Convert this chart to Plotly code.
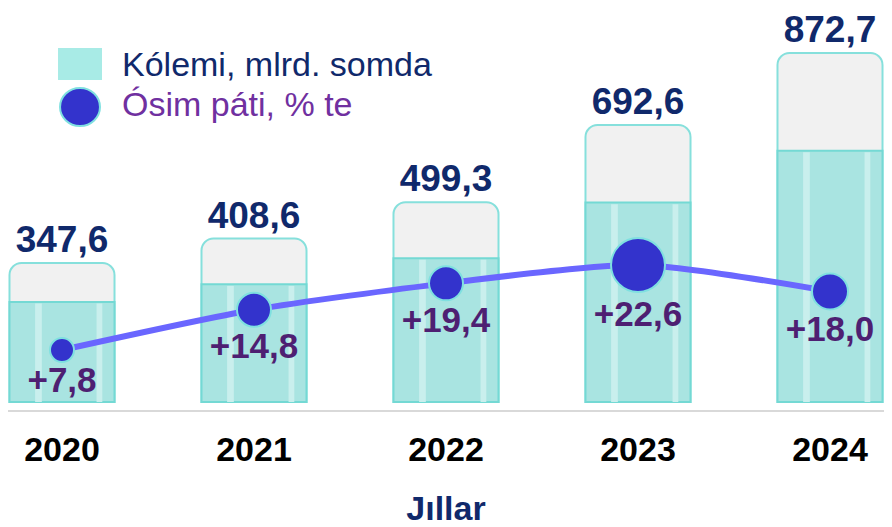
import plotly.graph_objects as go

years = ['2020', '2021', '2022', '2023', '2024']
volume = [347.6, 408.6, 499.3, 692.6, 872.7]      # Kólemi, mlrd. somda
growth = [7.8, 14.8, 19.4, 22.6, 18.0]            # Ósim páti, %

NAVY = '#10296b'
PURPLE = '#4e1f72'
LEG_PURPLE = '#7030a0'
FONT = 'Arial, Liberation Sans, sans-serif'

def fmt(v, sign=False):
    s = f'{v:.1f}'.replace('.', ',')
    return ('+' + s) if sign else s

# page body has an 8px margin and only ~876px stay visible across
W, H = 876, 519
marker_sizes = [24, 34, 34, 54, 36]
teal_frac = 0.72
teal = [v * teal_frac for v in volume]
BAR_W = 0.547

fig = go.Figure()

# outer (gray) bar = full value
fig.add_trace(go.Bar(
    x=years, y=volume, width=BAR_W,
    marker=dict(color='#f1f1f1', line=dict(color='#86e0dc', width=2), cornerradius=12),
    text=[fmt(v) for v in volume], textposition='outside', cliponaxis=False,
    textfont=dict(family=FONT, size=37, color=NAVY, weight='bold'),
    showlegend=False, hoverinfo='skip',
))
# inner teal fill
fig.add_trace(go.Bar(
    x=years, y=teal, width=BAR_W,
    marker=dict(color='#a9e4e1', line=dict(color='#74d9d4', width=2), cornerradius=12),
    showlegend=False, hoverinfo='skip',
))
# light glossy stripes on the teal fill
for off, w in [(-0.14, 0.035), (0.18, 0.03)]:
    fig.add_trace(go.Bar(
        x=years, y=[t - 4 for t in teal], width=w, offset=off,
        marker=dict(color='#c9efed', line=dict(width=0)),
        showlegend=False, hoverinfo='skip',
    ))

fig.add_trace(go.Scatter(
    x=years, y=growth, yaxis='y2',
    mode='lines+markers+text',
    line=dict(color='#6a66ff', width=6, shape='spline', smoothing=0.7),
    marker=dict(color='#3333cc', size=marker_sizes, opacity=1,
                line=dict(color='#7fe0e0', width=2)),
    text=[fmt(g, sign=True) for g in growth], textposition='bottom center',
    textfont=dict(family=FONT, size=35, color=PURPLE, weight='bold'),
    cliponaxis=False, showlegend=False,
))

fig.update_layout(
    width=W, height=H,
    margin=dict(l=0, r=0, t=2, b=117),
    paper_bgcolor='white', plot_bgcolor='white',
    barmode='overlay', showlegend=False,
    font=dict(family=FONT),
    xaxis=dict(
        type='category', range=[-0.28125, 4.28125],
        showgrid=False, showline=True, linecolor='#d9d9d9', linewidth=2,
        ticks='', ticklabelstandoff=8,
        tickfont=dict(family=FONT, size=34, color='black', weight='bold'),
        title=dict(text='Jıllar', standoff=32,
                   font=dict(family=FONT, size=34, color=NAVY, weight='bold')),
    ),
    yaxis=dict(range=[-20, 980], visible=False, showgrid=False),
    yaxis2=dict(range=[-2.65, 67.0], overlaying='y', visible=False, showgrid=False),
)

# hand-built legend (top-left)
fig.add_shape(type='rect', xref='paper', yref='paper', x0=0.0571, x1=0.1073, y0=0.825, y1=0.905,
              fillcolor='#a8ebe6', line=dict(width=0))
fig.add_shape(type='circle', xref='paper', yref='paper', x0=0.0594, x1=0.105, y0=0.71, y1=0.805,
              fillcolor='#3333cc', line=dict(color='#7fe0e0', width=2))
fig.add_annotation(xref='paper', yref='paper', x=0.1279, y=0.865, xanchor='left', yanchor='middle',
                   text='Kólemi, mlrd. somda', showarrow=False,
                   font=dict(family=FONT, size=34, color=NAVY))
fig.add_annotation(xref='paper', yref='paper', x=0.1279, y=0.765, xanchor='left', yanchor='middle',
                   text='Ósim páti, % te', showarrow=False,
                   font=dict(family=FONT, size=34, color=LEG_PURPLE))

fig.write_html('out.html')
